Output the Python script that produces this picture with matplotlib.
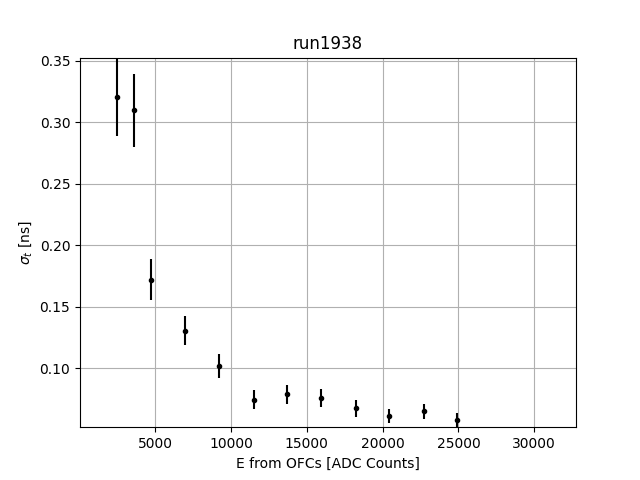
import matplotlib
matplotlib.use("Agg")
import matplotlib.pyplot as plt

# energy points and fitted time resolution
energy = [2500, 3621, 4723, 6966, 9228, 11537, 13714, 15956, 18245, 20442, 22730, 24927]
sigma_t = [0.3203, 0.3097, 0.1721, 0.1306, 0.1016, 0.0746, 0.0787, 0.0757, 0.0673, 0.0609, 0.0649, 0.0576]
sigma_err = [0.0312, 0.0296, 0.0170, 0.0120, 0.0096, 0.0076, 0.0075, 0.0073, 0.0068, 0.0057, 0.0059, 0.0057]

fig, ax = plt.subplots(figsize=(6.4, 4.8), dpi=100)
ax.errorbar(energy, sigma_t, yerr=sigma_err, fmt='k.')
ax.set_xlim(40, 32750)
ax.set_ylim(0.0521, 0.3525)
ax.grid(True)
ax.set_title("run1938")
ax.set_xlabel("E from OFCs [ADC Counts]")
ax.set_ylabel(r"$\sigma_t$ [ns]")

plt.savefig("out.png")
